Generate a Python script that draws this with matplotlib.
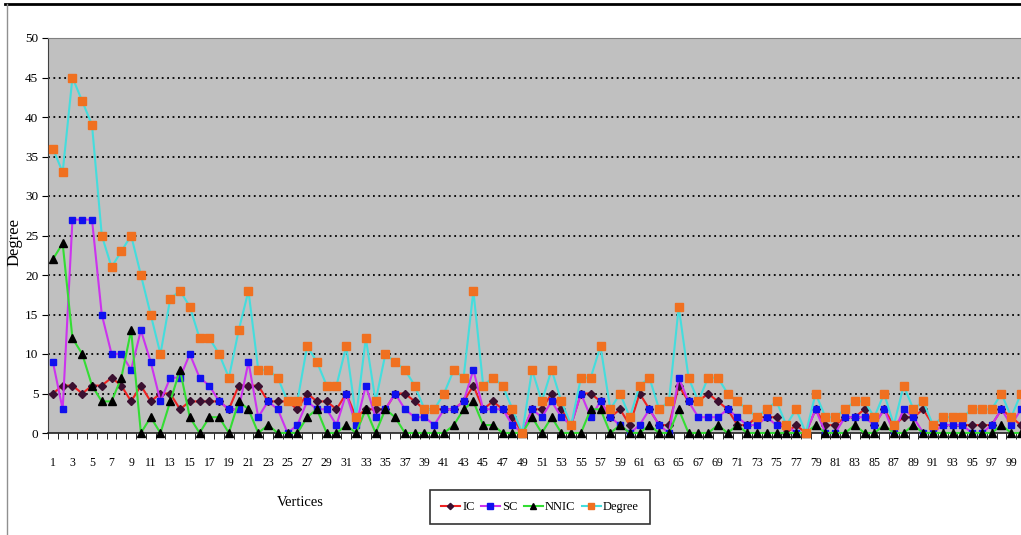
import matplotlib
matplotlib.use("Agg")
import matplotlib.pyplot as plt
from matplotlib.lines import Line2D

# ---------------- data ----------------
vertices = list(range(1, 101))

ic = [5, 6, 6, 5, 6, 6, 7, 6, 4, 6,
      4, 5, 5, 3, 4, 4, 4, 4, 3, 6,
      6, 6, 4, 4, 4, 3, 5, 4, 4, 3,
      5, 2, 3, 3, 3, 5, 5, 4, 3, 3,
      3, 3, 4, 6, 3, 4, 3, 2, 0, 3,
      3, 5, 3, 1, 5, 5, 4, 2, 3, 1,
      5, 3, 1, 1, 6, 4, 4, 5, 4, 3,
      1, 1, 2, 2, 2, 0, 1, 0, 3, 1,
      1, 2, 2, 3, 1, 3, 1, 2, 2, 3,
      1, 1, 1, 1, 1, 1, 1, 3, 2, 1]

sc = [9, 3, 27, 27, 27, 15, 10, 10, 8, 13,
      9, 4, 7, 7, 10, 7, 6, 4, 3, 3,
      9, 2, 4, 3, 0, 1, 4, 3, 3, 1,
      5, 1, 6, 2, 3, 5, 3, 2, 2, 1,
      3, 3, 4, 8, 3, 3, 3, 1, 0, 3,
      2, 4, 2, 1, 5, 2, 4, 2, 1, 0,
      1, 3, 1, 0, 7, 4, 2, 2, 2, 3,
      2, 1, 1, 2, 1, 1, 0, 0, 3, 0,
      0, 2, 2, 2, 1, 3, 0, 3, 2, 0,
      0, 1, 1, 1, 0, 0, 1, 3, 1, 3]

nnic = [22, 24, 12, 10, 6, 4, 4, 7, 13, 0,
        2, 0, 4, 8, 2, 0, 2, 2, 0, 4,
        3, 0, 1, 0, 0, 0, 2, 3, 0, 0,
        1, 0, 3, 0, 3, 2, 0, 0, 0, 0,
        0, 1, 3, 4, 1, 1, 0, 0, 0, 2,
        0, 2, 0, 0, 0, 3, 3, 0, 1, 0,
        0, 1, 0, 0, 3, 0, 0, 0, 1, 0,
        1, 0, 0, 0, 0, 0, 0, 0, 1, 0,
        0, 0, 1, 0, 0, 1, 0, 0, 1, 0,
        0, 0, 0, 0, 0, 0, 0, 1, 0, 0]

degree = [36, 33, 45, 42, 39, 25, 21, 23, 25, 20,
          15, 10, 17, 18, 16, 12, 12, 10, 7, 13,
          18, 8, 8, 7, 4, 4, 11, 9, 6, 6,
          11, 2, 12, 4, 10, 9, 8, 6, 3, 3,
          5, 8, 7, 18, 6, 7, 6, 3, 0, 8,
          4, 8, 4, 1, 7, 7, 11, 3, 5, 2,
          6, 7, 3, 4, 16, 7, 4, 7, 7, 5,
          4, 3, 2, 3, 4, 1, 3, 0, 5, 2,
          2, 3, 4, 4, 2, 5, 1, 6, 3, 4,
          1, 2, 2, 2, 3, 3, 3, 5, 2, 5]

y_ticks = [0, 5, 10, 15, 20, 25, 30, 35, 40, 45, 50]
x_tick_pos = list(range(1, 100, 2))
x_tick_labels = [str(v) for v in x_tick_pos]

FONT = ["Liberation Sans Narrow", "DejaVu Sans Condensed",
        "DejaVu Serif Condensed", "Liberation Serif", "DejaVu Serif"]

# ---------------- figure ----------------
W, H = 1021, 535
fig = plt.figure(figsize=(W / 100, H / 100), dpi=100)
fig.patch.set_facecolor("white")

ax = fig.add_axes([48 / W, 1 - 433 / H, 1 - 48 / W, (433 - 38) / H])
ax.set_facecolor("#c0c0c0")

# dotted gridlines
for yv in y_ticks[1:-1]:
    ax.axhline(yv, color="black", lw=1.3, ls=(0, (1, 2)), zorder=1)

series = [
    ("IC", ic, "#ee2222", "D", "#3a1030", 4),
    ("SC", sc, "#cc33ee", "s", "#1010ee", 4.8),
    ("NNIC", nnic, "#33dd33", "^", "#000000", 5.5),
    ("Degree", degree, "#44dddd", "s", "#f07020", 5.5),
]
handles = []
for i, (name, vals, lc, mk, mc, ms) in enumerate(series):
    ln, = ax.plot(vertices, vals, color=lc, lw=1.5, marker=mk, ms=ms,
                  mfc=mc, mec=mc, zorder=3 + i, clip_on=False, label=name)
    handles.append(ln)

ax.set_xlim(0.5, 100.0)
ax.set_ylim(0, 50)

ax.set_yticks(y_ticks)
ax.set_yticklabels([str(t) for t in y_ticks], family=FONT, fontsize=9.5)
ax.set_xticks(x_tick_pos)
ax.set_xticklabels(x_tick_labels, family=FONT, fontsize=8.5)
ax.set_xticks([v + 0.5 for v in range(0, 100)], minor=True)
ax.tick_params(axis="x", which="major", length=0, pad=17)
ax.tick_params(axis="x", which="minor", length=4, direction="out", color="black")
ax.tick_params(axis="y", length=4, direction="out", pad=3)

ax.spines["left"].set_color("#404040")
ax.spines["bottom"].set_color("#202020")
ax.spines["bottom"].set_linewidth(1.2)
ax.spines["top"].set_color("#808080")
ax.spines["right"].set_visible(False)

fig.text(300 / W, 1 - 503 / H, "Vertices", family=FONT, fontsize=10.5,
         ha="center", va="center")
fig.text(15 / W, 1 - 242 / H, "Degree", family=FONT, fontsize=12,
         ha="center", va="center", rotation=90)

leg = fig.legend(handles=handles, loc="center", ncol=4,
                 bbox_to_anchor=(540 / W, 1 - 507 / H),
                 prop={"family": FONT, "size": 9},
                 frameon=True, fancybox=False, edgecolor="black",
                 handlelength=1.5, handletextpad=0.2, columnspacing=0.5,
                 borderpad=0.9, markerscale=0.8)
leg.get_frame().set_linewidth(1.2)

# chart-area frame
fig.add_artist(Line2D([5 / W, 1], [1 - 4 / H, 1 - 4 / H], color="black", lw=2))
fig.add_artist(Line2D([7 / W, 7 / W], [0, 1 - 4 / H], color="#909090", lw=1))

fig.savefig("out.png", dpi=100)
